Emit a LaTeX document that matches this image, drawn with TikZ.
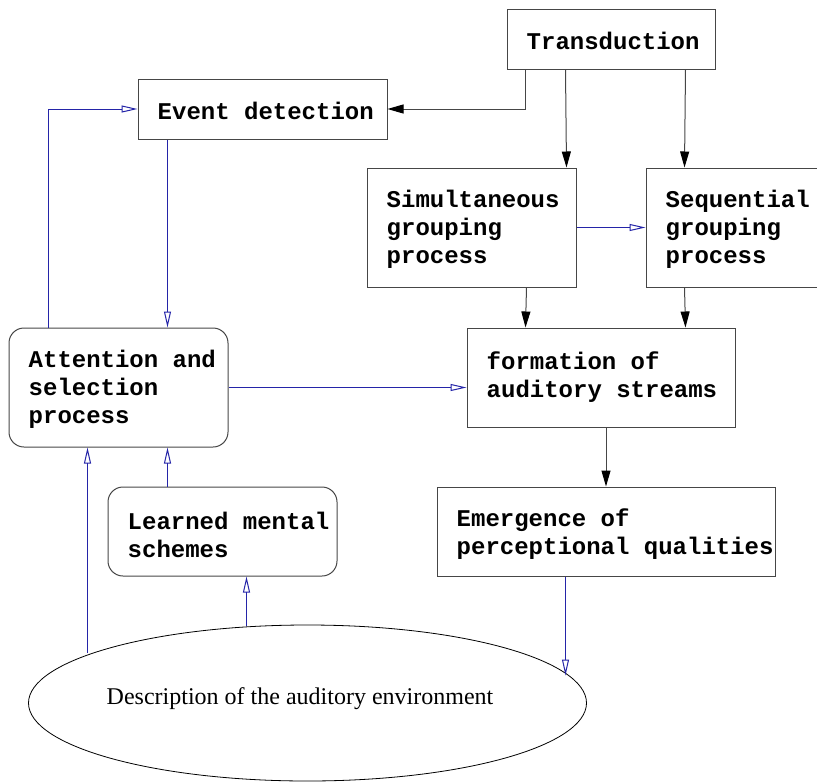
\documentclass[tikz,border=0pt]{standalone}
\usepackage{fontspec}
\setmainfont{Liberation Serif}
\setmonofont{Liberation Mono}
\usetikzlibrary{arrows.meta,shapes.geometric,calc}
\definecolor{linkblue}{RGB}{36,36,168}
\definecolor{edgegray}{RGB}{70,70,70}
\tikzset{
  procbox/.style={draw=edgegray, line width=1pt, inner sep=0pt},
  roundbox/.style={procbox, rounded corners=15pt},
  boxtext/.style={anchor=west, inner sep=0pt, align=left,
    font=\fontsize{24}{28}\selectfont\ttfamily\bfseries},
  envellipse/.style={ellipse, draw=black, line width=0.8pt, inner sep=0pt,
    minimum width=558pt, minimum height=156pt},
  blk/.style={draw=edgegray, line width=1pt, -{Triangle[length=16pt,width=9pt,color=black]}},
  blu/.style={draw=linkblue, line width=1pt, -{Triangle[open,length=16pt,width=7pt]}},
}
\begin{document}
\begin{tikzpicture}[x=1pt,y=-1pt]
\clip (0,0) rectangle (817,782);
\node[procbox, minimum width=208pt, minimum height=60pt] (trans) at (611,39) {};
\node[boxtext] (transT) at ([xshift=20pt,yshift=-2pt]trans.west) {Transduction};
\node[procbox, minimum width=249pt, minimum height=60pt] (event) at (262.5,109) {};
\node[boxtext] (eventT) at ([xshift=20pt,yshift=-2pt]event.west) {Event detection};
\node[procbox, minimum width=209pt, minimum height=119pt] (simul) at (471.5,227.5) {};
\node[boxtext] (simulT) at ([xshift=20pt,yshift=-2pt]simul.west) {Simultaneous\\grouping\\process};
\node[procbox, minimum width=200pt, minimum height=119pt] (seq) at (746,227.5) {};
\node[boxtext] (seqT) at ([xshift=20pt,yshift=-2pt]seq.west) {Sequential\\grouping\\process};
\node[roundbox, minimum width=219pt, minimum height=119pt] (att) at (118.5,387.5) {};
\node[boxtext] (attT) at ([xshift=20pt,yshift=-2pt]att.west) {Attention and\\selection\\process};
\node[procbox, minimum width=268pt, minimum height=99pt] (form) at (601,377.5) {};
\node[boxtext] (formT) at ([xshift=20pt]form.west) {formation of\\auditory streams};
\node[procbox, minimum width=338pt, minimum height=89pt] (emer) at (606,531.5) {};
\node[boxtext] (emerT) at ([xshift=20pt,yshift=-3pt]emer.west) {Emergence of\\perceptional qualities};
\node[roundbox, minimum width=229pt, minimum height=89pt] (learn) at (222.5,531.5) {};
\node[boxtext] (learnT) at ([xshift=20pt,yshift=-3pt]learn.west) {Learned mental\\schemes};
\node[envellipse] (env) at (307.5,703) {};
\node[font=\fontsize{24}{28}\selectfont, inner sep=0pt] (envtext) at (300,699) {Description of the auditory environment};

\coordinate (t1) at ([xshift=19pt]trans.south west);
\draw[blk] (t1) |- (event.east);
\draw[blk] ([xshift=59pt]trans.south west) -- ([xshift=-10pt]simul.north east);
\draw[blk] ([xshift=-30pt]trans.south east) -- ([xshift=39pt]seq.north west);
\draw[blu] (simul.east) -- (seq.west);
\draw[blk] ([xshift=-50pt]simul.south east) -- ([xshift=59pt]form.north west);
\draw[blk] ([xshift=39pt]seq.south west) -- ([xshift=-50pt]form.north east);
\draw[blk] ([xshift=5pt]form.south) -- (emer.north);
\coordinate (e1) at ([xshift=129pt]emer.south west);
\draw[blu] (e1) -- (e1 |- env.6.5);
\coordinate (d1) at ([xshift=30pt]event.south west);
\draw[blu] (d1) -- (d1 |- att.north);
\coordinate (a0) at ([xshift=40pt]att.north west);
\draw[blu] (a0) |- (event.west);
\draw[blu] (att.east) -- (att.east -| form.west);
\coordinate (a1) at ([xshift=79pt]att.south west);
\draw[blu] (a1 |- env.167.6) -- (a1);
\coordinate (l0) at ([xshift=60pt]learn.north west);
\draw[blu] (l0) -- (l0 |- att.south);
\coordinate (l1) at ([xshift=139pt]learn.south west);
\draw[blu] (l1 |- env.128.5) -- (l1);
\end{tikzpicture}
\end{document}
